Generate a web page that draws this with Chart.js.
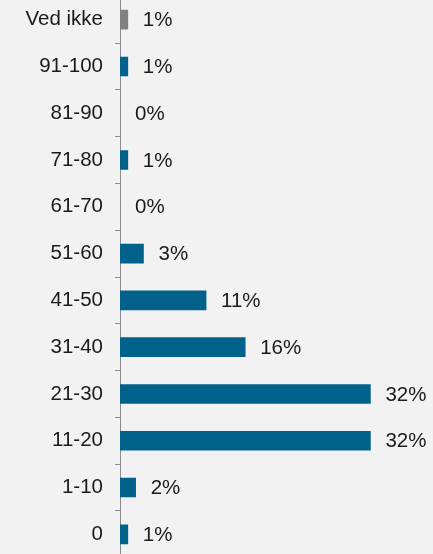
<!DOCTYPE html>
<html>
<head>
<meta charset="utf-8">
<script src="https://cdn.jsdelivr.net/npm/chart.js@4"></script>
<style>
  html, body { margin: 0; padding: 0; background: #f2f2f2; overflow: hidden; }
  #wrap { position: absolute; left: 0; top: -28px; width: 433px; height: 610px; }
</style>
</head>
<body>
<div id="wrap"><canvas id="myChart"></canvas></div>
<script>
const categories = ['Ved ikke', '91-100', '81-90', '71-80', '61-70', '51-60', '41-50', '31-40', '21-30', '11-20', '1-10', '0'];
const shares = [1, 1, 0, 1, 0, 3, 11, 16, 32, 32, 2, 1];
const barColors = ['#808080', '#00628a', '#00628a', '#00628a', '#00628a', '#00628a', '#00628a', '#00628a', '#00628a', '#00628a', '#00628a', '#00628a'];

const valueLabels = {
    id: 'valueLabels',
    afterDatasetsDraw(chart) {
        const ctx = chart.ctx;
        const meta = chart.getDatasetMeta(0);
        ctx.save();
        ctx.font = '20.5px "Liberation Sans", Arial, sans-serif';
        ctx.fillStyle = '#1a1a1a';
        ctx.textAlign = 'left';
        ctx.textBaseline = 'middle';
        meta.data.forEach((bar, i) => {
            ctx.fillText(shares[i] + '%', bar.x + 15, bar.y + 1);
        });
        ctx.restore();
    }
};

let ctx = document.getElementById('myChart').getContext('2d');
let myChart = new Chart(ctx, {
    type: 'bar',
    data: {
        labels: categories,
        datasets: [{
            data: shares,
            backgroundColor: (c) => c.raw === 0 ? 'rgba(0,0,0,0)' : barColors[c.dataIndex],
            borderWidth: 0,
            barThickness: 19
        }]
    },
    options: {
        indexAxis: 'y',
        responsive: true,
        maintainAspectRatio: false,
        animation: false,
        layout: { padding: 0 },
        plugins: {
            legend: { display: false },
            tooltip: { enabled: false }
        },
        scales: {
            x: {
                display: false,
                min: 0,
                max: 40
            },
            y: {
                offset: true,
                grid: {
                    offset: true,
                    drawOnChartArea: false,
                    drawTicks: true,
                    tickLength: 5,
                    tickColor: '#8c8c8c',
                    tickWidth: 1
                },
                border: { display: true, color: '#8c8c8c', width: 1 },
                ticks: {
                    color: '#1a1a1a',
                    padding: 12,
                    font: { family: '"Liberation Sans", Arial, sans-serif', size: 20.5 }
                },
                afterFit(scale) { scale.width = 120; }
            }
        }
    },
    plugins: [valueLabels]
});
</script>
</body>
</html>
